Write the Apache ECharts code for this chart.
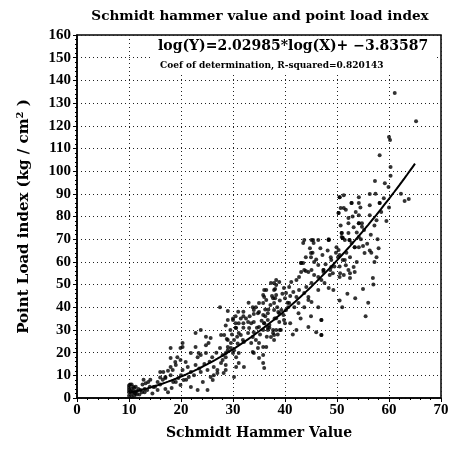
<!DOCTYPE html>
<html>
<head>
<meta charset="utf-8">
<script src="https://cdn.jsdelivr.net/npm/echarts@6/dist/echarts.min.js"></script>
<style>
  html, body { margin: 0; padding: 0; background: #fff; }
  #chart { width: 452px; height: 449px; }
</style>
</head>
<body>
<div id="chart"></div>
<script>
// Schmidt hammer rebound value of each specimen
const hammerValue = [
  10, 10, 10, 10, 10.3, 10.5, 10.5, 10.5, 10.8, 11, 11, 11.2, 11.3, 11.5, 10, 10.5, 11, 12.2, 12.8, 12.6,
  13.2, 13.7, 13.5, 14.1, 14.7, 12, 13, 15.5, 15.5, 14.5, 16, 16, 16, 16.6, 17, 17, 17, 17.5, 18, 18.4,
  18.2, 18.5, 19, 19.3, 18, 18.9, 19.5, 19.9, 19.9, 18, 19.9, 20.3, 20.3, 20.5, 20.9, 21.3, 21.5, 21.9, 21.9, 21.9,
  20.3, 22.8, 22.8, 22.8, 23.2, 23.4, 23.8, 23.8, 23.2, 23.8, 24.2, 24.8, 24.8, 24.8, 25.3, 25.1, 25.1, 25.7, 25.7, 26.1,
  26.3, 26.3, 27, 27, 27.7, 27.7, 28, 28, 28.2, 28.3, 28.6, 28.6, 28.6, 28.6, 28.6, 29, 29, 29, 29, 29,
  29.6, 29.6, 30, 30, 30, 30.2, 30.2, 30.2, 30.5, 30.5, 30.5, 30.6, 30.6, 30.6, 30.9, 31.1, 31.1, 31.1, 31.1, 31.5,
  31.9, 32, 32, 32, 32, 32.1, 32.1, 32.9, 32.9, 33.1, 33.5, 33.5, 33.8, 33.8, 33.8, 34, 34, 34, 34, 34,
  34.4, 34.4, 34.8, 34.8, 35, 35, 35, 35, 35, 35.8, 35.8, 35.8, 35.8, 35.8, 35.8, 35.8, 36, 36, 36, 36,
  36.2, 36.4, 36.4, 36.4, 36.7, 36.7, 36.7, 36.7, 37, 37, 37.3, 37.3, 37.7, 37.7, 37.7, 37.9, 37.9, 37.9, 37.9, 37.9,
  37.9, 38.1, 38.1, 38.3, 38.3, 38.3, 38.3, 38.3, 38.7, 38.9, 38.9, 38.9, 39.3, 39.7, 39.8, 39.8, 40.2, 40.2, 40.6, 40.8,
  40.8, 41.2, 41.6, 41.8, 42.2, 42.2, 42.6, 42.6, 42.7, 42.7, 43.1, 43.1, 43.5, 43.5, 43.7, 43.7, 43.7, 44.1, 44.5, 44.5,
  44.5, 45.1, 45.1, 45.1, 45.1, 45.5, 45.6, 45.6, 46.4, 46.4, 46.4, 46.4, 46.4, 47, 47, 47, 47.4, 47.4, 47.6, 48.4,
  48.4, 48.4, 48.6, 48.9, 48.9, 49.3, 49.9, 50.2, 50.3, 50.3, 50.5, 50.5, 50.5, 50.5, 50.9, 50.9, 51.1, 51.1, 51.3, 51.5,
  51.5, 51.7, 52.2, 52.2, 52.2, 52.4, 52.8, 52.8, 53.2, 53.2, 53.4, 53.4, 53.8, 53.8, 54.2, 54.2, 54.2, 54.2, 54.8, 55.3,
  56.6, 57.6, 57.2, 45.4, 43.7, 48.4, 51.1, 50.9, 52.4, 52.2, 50.7, 53.4, 55, 56.3, 58, 45, 45, 44, 43.1, 47.4,
  48.7, 49.2, 50.6, 52.5, 52.5, 56.9, 51.3, 50.7, 51.7, 52.8, 54.2, 54.5, 56.3, 50.3, 54.2, 56.3, 57.6, 58.2, 54.8, 50.5,
  51.3, 54.2, 56.3, 57.4, 58.2, 57.3, 59.2, 59.9, 60.3, 60.3, 58.2, 60.2, 60, 61.1, 65.2, 62.3, 63.8, 63, 50.5, 51,
  52, 53.5, 55, 56, 57, 55.5, 42.2, 44.5, 46, 47, 47, 43, 41, 45, 39, 40, 41.5, 36.5, 33, 27.5,
  36, 36.2, 36.8, 37.2, 37.5, 38, 38.5, 39, 39.5, 40, 40.5, 41, 39.2, 38.6, 35.2, 35.5, 34.6, 33.2, 32.5, 31.5,
  31, 30.8, 29.5, 29.8, 28.8, 27.5, 26.8, 26, 25.5, 24.5, 23.5, 22.5, 21, 20, 19, 18, 17.5, 16.5, 15, 14,
  13, 12.5, 11.5, 11.8, 10.2, 10.8, 44, 44.8, 45.3, 46, 46.8, 47.2, 47.8, 48.2, 48.8, 49.5, 49.8, 51.8, 52.5, 53,
  53.6, 54.6, 55.2, 55.8, 56.5, 57.2, 57.8, 58.5, 59, 59.5, 60
];
// Point load index (kg/cm²) of the same specimens
const loadIndex = [
  2.5, 3.5, 4.5, 5.5, 3, 2, 4, 6, 3, 2.5, 4.4, 2, 5, 3, 1, 0.5, 1, 3.5, 8, 6,
  6.5, 7, 3.5, 8, 4.8, 1.5, 2.5, 7, 3.5, 2, 11.5, 9, 6, 11.5, 8.8, 9.3, 4, 2.5, 13.7, 12.3,
  4.4, 7, 14.5, 18, 17.6, 15.9, 8.8, 5.7, 16.7, 22, 22, 24.2, 12.3, 7.9, 15.9, 13.7, 9.3, 11.5, 4.8, 19.8,
  22.5, 14.5, 22.5, 28.6, 18, 19.8, 11.5, 19, 3.5, 30, 7, 23.3, 19.8, 27, 24.2, 12.3, 3.5, 9.3, 26.4, 7.9,
  10, 13.7, 12.3, 11, 15.4, 27.8, 16.7, 19, 11, 27.8, 14.5, 18, 32, 19.8, 12.3, 21, 25.6, 34.4, 38.3, 22.5,
  22, 24.2, 34.4, 35, 19.8, 25.6, 21, 9.3, 31, 33, 36, 30.8, 18, 13.7, 24, 33, 19.8, 15.4, 28.6, 27.8,
  25.6, 31, 33, 36, 38, 13.7, 24.7, 33.5, 28.6, 30.8, 33, 24.2, 40, 26.9, 20.3, 29, 33.5, 37, 38.8, 19.8,
  40, 25.6, 37.4, 22, 31.3, 41.9, 24.2, 17.6, 37.9, 41.9, 45.4, 36.6, 30, 22.5, 15.4, 19, 47.6, 44.5, 33, 13.2,
  39, 47.6, 43.2, 22.5, 37.4, 34.4, 30, 31, 32.2, 31, 50.7, 26.9, 44, 30, 28.6, 50.7, 38.8, 41.9, 47.6, 27.8,
  25.6, 44, 48, 35.2, 45.4, 49.8, 52, 30, 37.9, 37.4, 33.5, 51.1, 38.8, 36.6, 34.4, 48.5, 38.8, 46.3, 40, 41.9,
  48.9, 51.1, 46.7, 40, 52, 44.5, 41.9, 37.4, 47.6, 53.3, 55.5, 59.5, 59.5, 68.3, 56.4, 46.3, 40, 48.9, 55.5, 44.5,
  43.2, 56.4, 50.7, 42.3, 69.6, 68.3, 54.2, 60, 47.6, 53.3, 58.6, 69.6, 40, 52, 34.4, 27.8, 55.5, 56.4, 50.7, 69.6,
  48.5, 70, 54.2, 57.7, 60.8, 47.6, 66.5, 62, 65.2, 81.5, 58, 63, 53.3, 88.5, 71, 72.7, 60.8, 70.5, 54.2, 69.6,
  60.8, 58.5, 79.3, 72.7, 56.4, 69.6, 68.3, 86, 75.3, 57.7, 55.5, 66.5, 73, 60, 77, 71, 66.5, 85.9, 75.5, 63.9,
  64, 62, 60, 69.6, 69.6, 69.6, 70.5, 72.7, 69.6, 77, 76, 66.5, 67, 65, 66, 63.9, 62, 56, 59.5, 56.4,
  56.4, 55, 55, 55, 52.9, 52.9, 89.4, 83.7, 83, 86, 80.6, 84, 85, 81.5, 88.5, 80.6, 78.4, 86, 77, 88.5,
  83.7, 77, 89.9, 90, 107, 95.6, 94.7, 93, 101.8, 98, 86, 113.7, 115, 134.4, 122, 90, 87.7, 86.8, 43, 40,
  46, 44, 48, 42, 50, 36, 30, 31.3, 29, 27.8, 34.4, 35, 33, 36, 30, 33, 28, 27, 42, 40,
  33, 36, 39, 41, 45, 35, 40, 43, 46, 44, 42, 45, 30, 28, 28, 34, 31, 36, 35, 35,
  38, 27, 30, 28, 26, 22, 20, 18, 16, 15, 13, 10, 8, 10, 7, 10, 12, 8, 5, 5,
  4, 2.5, 1.5, 4, 6, 5, 62, 66, 64, 61, 66, 63, 59, 65, 62, 58, 64, 64, 62, 80,
  82, 70, 74, 68, 72, 76, 70, 82, 88, 78, 84
];

// Regression reported on the chart: ln(Y) = slope * ln(X) + intercept
const fitSlope = 2.02985;
const fitIntercept = -3.83587;
const rSquared = '0.820143';
const fitStart = 10;
const fitEnd = 65;

const xTicks = [0, 10, 20, 30, 40, 50, 60, 70];
const yTicks = [0, 10, 20, 30, 40, 50, 60, 70, 80, 90, 100, 110, 120, 130, 140, 150, 160];

const points = hammerValue.map((x, i) => [x, loadIndex[i]]);

const fitLine = [];
for (let x = fitStart; x <= fitEnd + 1e-9; x += 0.5) {
  fitLine.push([x, Math.exp(fitSlope * Math.log(x) + fitIntercept)]);
}

const serif = '"Liberation Serif", "DejaVu Serif", serif';
const wideSerif = '"DejaVu Serif", "Liberation Serif", serif';

const axisCommon = {
  axisLine: { show: true, lineStyle: { color: '#000', width: 1.5 } },
  axisTick: { show: true, inside: false, length: 4, lineStyle: { color: '#000', width: 1 } },
  minorTick: { show: true, splitNumber: 5, length: 2, lineStyle: { color: '#000', width: 1 } },
  splitLine: { show: true, lineStyle: { color: '#222', width: 1, type: [1, 3] } },
  axisLabel: { color: '#000', fontFamily: serif, fontWeight: 'bold', fontSize: 15 }
};

const chart = echarts.init(document.getElementById('chart'), null, { renderer: 'canvas' });
chart.setOption({
  animation: false,
  backgroundColor: '#fff',
  title: {
    text: 'Schmidt hammer value and point load index',
    left: 255,
    textAlign: 'center',
    top: 4,
    textStyle: { fontFamily: wideSerif, fontWeight: 'bold', fontSize: 13.6, color: '#000' }
  },
  grid: {
    left: 77, right: 11, top: 35, bottom: 51,
    show: true, borderColor: '#000', borderWidth: 1.5, backgroundColor: 'transparent'
  },
  xAxis: Object.assign({}, axisCommon, {
    type: 'value',
    min: xTicks[0], max: xTicks[xTicks.length - 1], interval: xTicks[1] - xTicks[0],
    name: 'Schmidt Hammer Value',
    nameLocation: 'middle',
    nameGap: 28,
    nameTextStyle: { fontFamily: wideSerif, fontWeight: 'bold', fontSize: 14, color: '#000' },
    axisLabel: Object.assign({}, axisCommon.axisLabel, { margin: 5 })
  }),
  yAxis: Object.assign({}, axisCommon, {
    type: 'value',
    min: yTicks[0], max: yTicks[yTicks.length - 1], interval: yTicks[1] - yTicks[0],
    name: '{a|Point Load index (kg / cm}{s|2}{a| )}',
    nameLocation: 'middle',
    nameGap: 44,
    nameRotate: 90,
    nameTextStyle: {
      rich: {
        a: { fontFamily: wideSerif, fontWeight: 'bold', fontSize: 15, color: '#000' },
        s: { fontFamily: wideSerif, fontWeight: 'bold', fontSize: 10, color: '#000', verticalAlign: 'top', padding: [0, 0, 8, 0] }
      }
    },
    axisLabel: Object.assign({}, axisCommon.axisLabel, { margin: 6 })
  }),
  graphic: [
    {
      type: 'rect', left: 150, top: 37, z: 50,
      shape: { width: 287, height: 37 },
      style: { fill: '#fff' }
    },
    {
      type: 'text', left: 158, top: 39, z: 51,
      style: {
        text: 'log(Y)=2.02985*log(X)+ −3.83587',
        font: 'bold 14px "DejaVu Serif", serif',
        fill: '#000'
      }
    },
    {
      type: 'text', left: 160, top: 61, z: 51,
      style: {
        text: 'Coef of determination, R-squared=' + rSquared,
        font: 'bold 9px "DejaVu Serif", serif',
        fill: '#000'
      }
    }
  ],
  series: [
    {
      type: 'scatter',
      data: points,
      symbol: 'circle',
      symbolSize: 4,
      itemStyle: { color: '#000' },
      z: 3
    },
    {
      type: 'line',
      data: fitLine,
      showSymbol: false,
      smooth: false,
      lineStyle: { color: '#000', width: 2 },
      z: 4
    }
  ]
});
</script>
</body>
</html>
